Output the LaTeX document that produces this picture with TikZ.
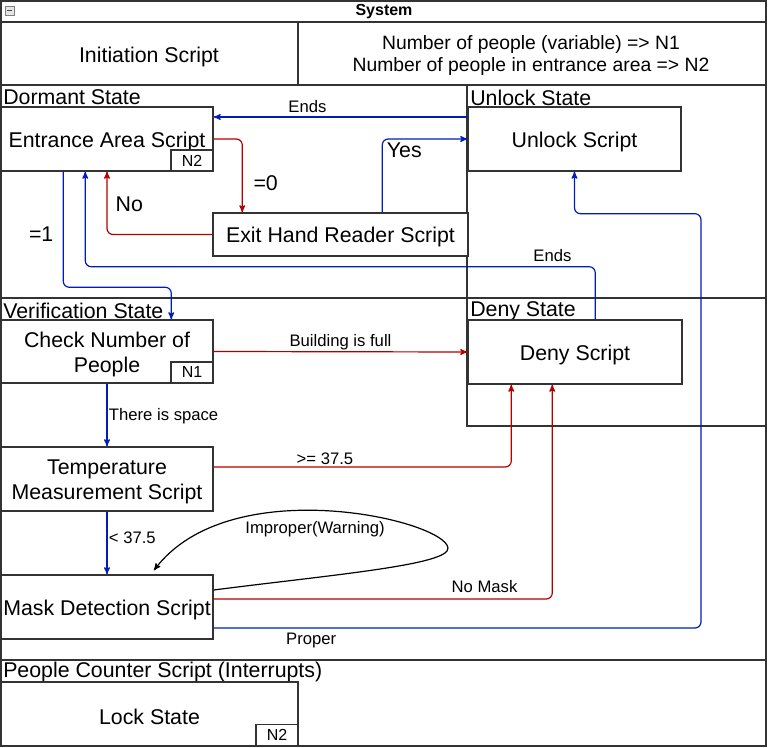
\documentclass[tikz,border=0pt]{standalone}
\usepackage{fontspec}
\setmainfont{Liberation Sans}
\usetikzlibrary{arrows,calc}
\newcommand{\FlowArrowType}{stealth'}
\definecolor{flowblue}{HTML}{001DBC}
\definecolor{flowred}{HTML}{B20000}
\definecolor{framegray}{HTML}{333333}

\begin{document}
\begin{tikzpicture}[x=0.75pt,y=-0.75pt,>=\FlowArrowType,
    frame/.style={draw=framegray,line width=1.1pt},
    script/.style={draw=framegray,line width=1.1pt,fill=white,inner sep=0pt},
    scripttext/.style={inner sep=0pt,align=center,yshift=-2pt,font=\fontsize{16}{18.75}\selectfont},
    badge/.style={draw=framegray,line width=1.1pt,fill=white,inner sep=0pt,minimum width=31.5pt,minimum height=15.75pt,font=\fontsize{12}{14}\selectfont},
    region/.style={anchor=west,inner sep=0pt,font=\fontsize{16}{18}\selectfont},
    bigtag/.style={inner sep=1pt,font=\fontsize{16}{18}\selectfont},
    smalltag/.style={inner sep=1pt,font=\fontsize{12.5}{15}\selectfont},
    blueflow/.style={->,draw=flowblue,line width=0.9pt,rounded corners=4.5pt},
    redflow/.style={->,draw=flowred,line width=0.9pt,rounded corners=4.5pt}]
        \useasboundingbox (0,0) rectangle (769,748);
        % swimlane frames
        \draw[frame] (1,1) rectangle (766,746);
        \draw[frame] (1,22) -- (766,22);
        \draw[frame] (1,85) -- (766,85);
        \draw[frame] (298,22) -- (298,85);
        \draw[frame] (1,298) -- (766,298);
        \draw[frame] (467,85) -- (467,426) -- (766,426);
        \draw[frame] (1,660) -- (766,660);
        \node[draw=gray,fill=gray!20,line width=0.5pt,minimum size=6.75pt,inner sep=0pt] (collapse) at (9.5,10.5) {};
        \draw[gray!60!black,line width=0.8pt] ($(collapse.west)+(2,0)$) -- ($(collapse.east)+(-2,0)$);
        \node[font=\bfseries\fontsize{12}{14}\selectfont] (title) at (384,12) {System};
        \node[bigtag] (init) at (149,56.5) {Initiation Script};
        \node[bigtag,align=center,font=\fontsize{14.5}{16.5}\selectfont] (vars) at (531,56) {Number of people (variable) => N1\\Number of people in entrance area => N2};
        % lane titles
        \node[region] (dormant) at (3,97.5) {Dormant State};
        \node[region] (unlockst) at (470,97.5) {Unlock State};
        \node[region] (verif) at (3,311) {Verification State};
        \node[region] (denyst) at (470,311) {Deny State};
        \node[region] (counter) at (3,672) {People Counter Script (Interrupts)};
        % scripts
        \node[script,minimum width=159pt,minimum height=48pt,label={[scripttext]center:Entrance Area Script}] (entrance) at (107,139) {};
        \node[badge] (entranceN) at (192,160.5) {N2};
        \node[script,minimum width=191.25pt,minimum height=32.25pt,label={[scripttext]center:Exit Hand Reader Script}] (exit) at (340.5,234.5) {};
        \node[script,minimum width=159.75pt,minimum height=48pt,label={[scripttext]center:Unlock Script}] (unlock) at (574.5,139) {};
        \node[script,minimum width=159pt,minimum height=47.25pt,label={[scripttext]center:Check Number of\\People}] (check) at (107,351.5) {};
        \node[badge] (checkN) at (192,372.5) {N1};
        \node[script,minimum width=160.5pt,minimum height=48pt,label={[scripttext]center:Deny Script}] (deny) at (575,352) {};
        \node[script,minimum width=159pt,minimum height=48pt,label={[scripttext]center:Temperature\\Measurement Script}] (temp) at (107,479) {};
        \node[script,minimum width=159pt,minimum height=48pt,label={[scripttext]center:Mask Detection Script}] (mask) at (107,607) {};
        \node[script,minimum width=222.75pt,minimum height=48pt,label={[scripttext]center:Lock State}] (lock) at (149.5,714) {};
        \node[badge] (lockN) at (277,735) {N2};
        % connectors
        \coordinate (unlockgate) at (467,117);
        \draw[blueflow] (unlockgate) -- node[smalltag,above,pos=0.63,yshift=2pt] {Ends} (entrance.east |- unlockgate);
        \draw[redflow] (entrance.east) -| node[bigtag,pos=0.8,right=7pt] {=0} ($(exit.north west)+(30,0)$);
        \draw[redflow] (exit.west) -| node[bigtag,pos=0.74,right=5pt] {No} (entrance.south);
        \draw[blueflow] ($(exit.north west)+(170,0)$) |- node[bigtag,pos=0.42,right=2pt] {Yes} (unlock.west);
        \draw[blueflow] ($(entrance.south west)+(63,0)$) |- node[bigtag,pos=0.27,left=6pt] {=1} ($(check.north west)+(171,-32)$) -- ($(check.north west)+(171,0)$);
        \draw[blueflow] ($(deny.north west)+(128,0)$) |- node[smalltag,above,pos=0.542,yshift=2pt] {Ends} ($(entrance.south west)+(85,95)$) -- ($(entrance.south west)+(85,0)$);
        \draw[redflow] (check.east) -- node[smalltag,above] {Building is full} (deny.west);
        \draw[blueflow] (check.south) -- node[smalltag,right,pos=0.52] {There is space} (temp.north);
        \draw[redflow] ($(temp.east)+(0,-12)$) -| node[smalltag,above,pos=0.187] {>= 37.5} ($(deny.south west)+(44,0)$);
        \draw[blueflow] (temp.south) -- node[smalltag,right,pos=0.42] {< 37.5} (mask.north);
        \draw[->,line width=0.9pt] ($(mask.east)+(0,-17)$) .. controls (330,575) and (450,565) .. (448,548) .. controls (445,520) and (230,470) .. ($(mask.north)+(47,-4)$);
        \node[smalltag] (improper) at (315,529) {Improper(Warning)};
        \draw[redflow] ($(mask.east)+(0,-8)$) -| node[smalltag,above,pos=0.4,yshift=3pt] {No Mask} ($(deny.south west)+(85,0)$);
        \draw[blueflow] ($(mask.east)+(0,21)$) -| node[smalltag,below,pos=0.1,yshift=-2pt] {Proper} ($(unlock.south)+(126.5,42)$) -| (unlock.south);
\end{tikzpicture}
\end{document}
